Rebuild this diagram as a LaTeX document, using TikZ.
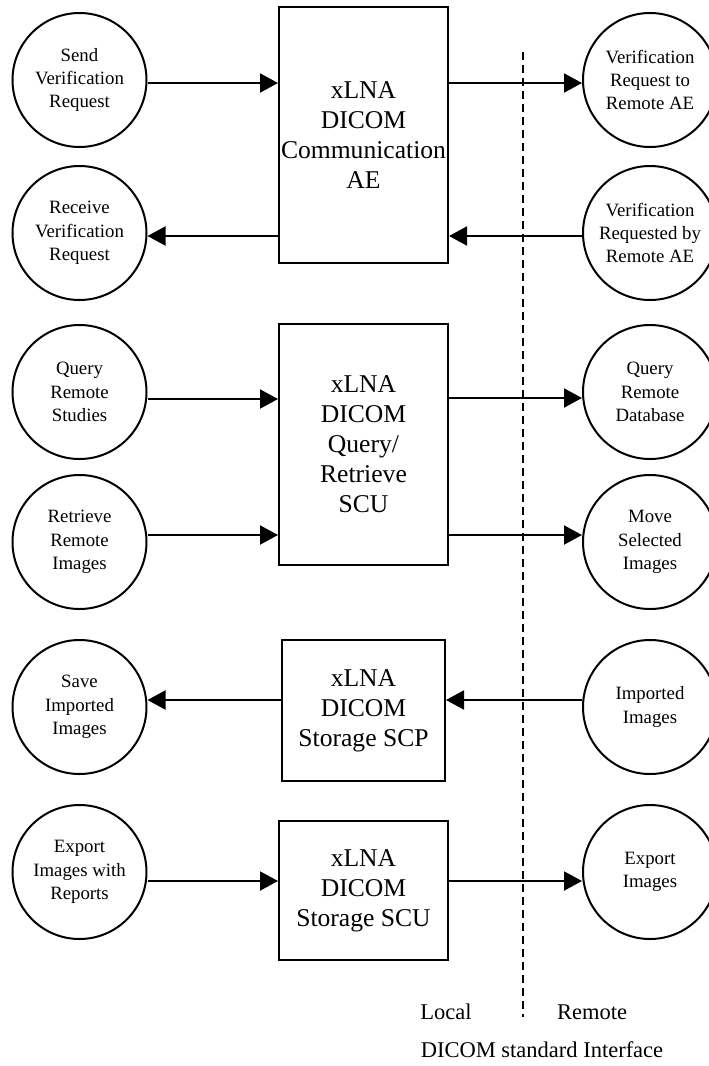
\documentclass[tikz,border=0pt]{standalone}
\usepackage{fontspec}
\setmainfont{Liberation Serif}
\usetikzlibrary{arrows.meta}
\begin{document}
\begin{tikzpicture}[x=1pt,y=-1pt,
  circ/.style={draw,circle,line width=2pt,minimum size=134pt,inner sep=0pt,align=center,
    font=\fontsize{18.8}{23.3}\selectfont},
  box/.style={draw,rectangle,line width=2pt,inner sep=0pt,align=center,
    font=\fontsize{25.6}{30}\selectfont},
  arr/.style={line width=2pt,-{Triangle[length=18pt,width=19pt]}},
  lbl/.style={font=\fontsize{22.5}{27}\selectfont,inner sep=0pt}]
\clip (0,0) rectangle (709,1066);
% left circles
\node[circ] (L1) at (79.5,80) {Send\\Verification\\Request};
\node[circ] (L2) at (79.5,233) {Receive\\Verification\\Request};
\node[circ] (L3) at (79.5,392) {Query\\Remote\\Studies};
\node[circ] (L4) at (79.5,542) {Retrieve\\Remote\\Images};
\node[circ] (L5) at (79.5,707) {Save\\Imported\\Images};
\node[circ] (L6) at (79.5,872) {Export\\Images with\\Reports};
% right circles
\node[circ] (R1) at (650,80) {Verification\\Request to\\Remote AE};
\node[circ] (R2) at (650,233) {Verification\\Requested by\\Remote AE};
\node[circ] (R3) at (650,392) {Query\\Remote\\Database};
\node[circ] (R4) at (650,542) {Move\\Selected\\Images};
\node[circ] (R5) at (650,707) {Imported\\Images};
\node[circ] (R6) at (650,872) {Export\\Images};
% boxes
\node[box,minimum width=169pt,minimum height=256pt] (B1) at (363.5,135) {xLNA\\DICOM\\Communication\\AE};
\node[box,minimum width=169pt,minimum height=241pt] (B2) at (363.5,444.5) {xLNA\\DICOM\\Query/\\Retrieve\\SCU};
\node[box,minimum width=163pt,minimum height=141pt] (B3) at (363.5,710.5) {xLNA\\DICOM\\Storage SCP};
\node[box,minimum width=169pt,minimum height=139pt] (B4) at (363.5,890.5) {xLNA\\DICOM\\Storage SCU};
% divider
\coordinate (dtop) at (523,52);
\coordinate (dbot) at (523,1017);
\draw[line width=1.8pt,dash pattern=on 8pt off 5pt] (dtop) -- (dbot);
% arrows group 1
\draw[arr] ([yshift=-3pt]L1.east) -- ([yshift=-3pt]L1.east -| B1.west);
\draw[arr] ([yshift=-3pt]R1.west -| B1.east) -- ([yshift=-3pt]R1.west);
\draw[arr] ([yshift=-3pt]L2.east -| B1.west) -- ([yshift=-3pt]L2.east);
\draw[arr] ([yshift=-3pt]R2.west) -- ([yshift=-3pt]R2.west -| B1.east);
% group 2
\draw[arr] ([yshift=-7pt]L3.east) -- ([yshift=-7pt]L3.east -| B2.west);
\draw[arr] ([yshift=7pt]L4.east) -- ([yshift=7pt]L4.east -| B2.west);
\draw[arr] ([yshift=-6pt]R3.west -| B2.east) -- ([yshift=-6pt]R3.west);
\draw[arr] ([yshift=7pt]R4.west -| B2.east) -- ([yshift=7pt]R4.west);
% group 3
\draw[arr] ([yshift=7pt]L5.east -| B3.west) -- ([yshift=7pt]L5.east);
\draw[arr] ([yshift=7pt]R5.west) -- ([yshift=7pt]R5.west -| B3.east);
% group 4
\draw[arr] ([yshift=-9pt]L6.east) -- ([yshift=-9pt]L6.east -| B4.west);
\draw[arr] ([yshift=-9pt]R6.west -| B4.east) -- ([yshift=-9pt]R6.west);
% labels
\node[lbl] (loc) at (446,1012) {Local};
\node[lbl] (rem) at (592,1012) {Remote};
\node[lbl] (dsi) at (542,1050) {DICOM standard Interface};
\end{tikzpicture}
\end{document}
